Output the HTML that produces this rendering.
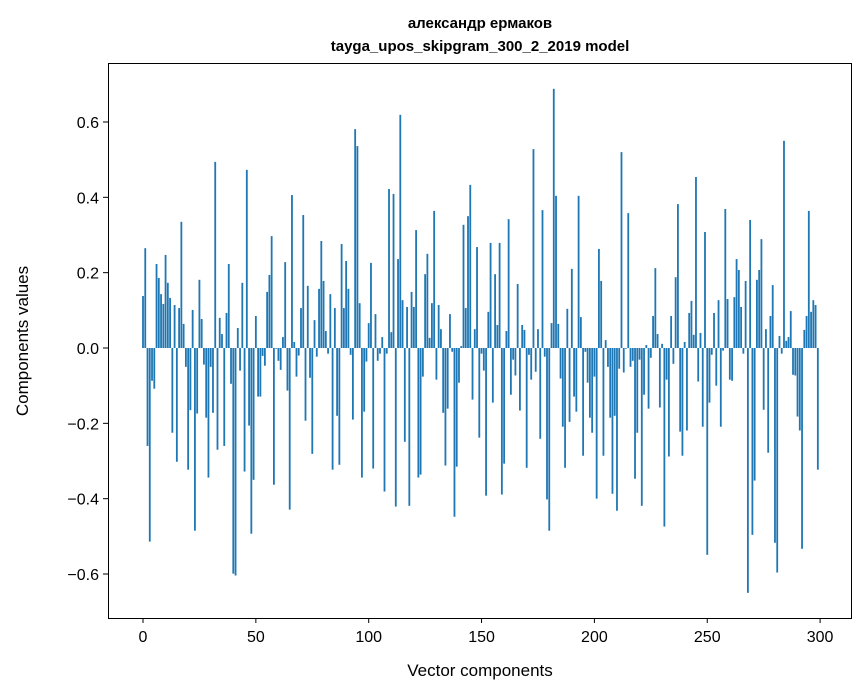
<!DOCTYPE html>
<html><head><meta charset="utf-8">
<style>
html,body{margin:0;padding:0;background:#fff;}
svg{display:block;font-family:"Liberation Sans","DejaVu Sans",sans-serif;}
</style></head>
<body>
<svg id="chart" width="867" height="696" viewBox="0 0 867 696">
  <rect x="0" y="0" width="867" height="696" fill="#fff"/>
  <text x="480" y="28" text-anchor="middle" font-size="15" font-weight="bold">александр ермаков</text>
  <text x="480" y="51" text-anchor="middle" font-size="15" font-weight="bold">tayga_upos_skipgram_300_2_2019 model</text>
  <g id="bars"></g>
  <g id="xticks"></g>
  <g id="yticks"></g>
  <rect x="108.5" y="63.5" width="743" height="555" fill="none" stroke="#000" stroke-width="1"/>
  <text x="480" y="676" text-anchor="middle" font-size="17">Vector components</text>
  <text x="28" y="341" text-anchor="middle" font-size="17" transform="rotate(-90 28 341)">Components values</text>
</svg>
<script>
const values = [
0.138,0.265,-0.26,-0.514,-0.087,-0.108,0.223,0.186,0.143,0.117,
0.247,0.173,0.133,-0.225,0.114,-0.302,0.106,0.335,0.064,-0.05,
-0.323,-0.165,0.101,-0.485,-0.174,0.181,0.077,-0.044,-0.185,-0.344,
-0.05,-0.172,0.494,-0.27,0.08,0.037,-0.26,0.093,0.223,-0.095,
-0.599,-0.604,0.053,-0.06,0.173,-0.328,0.473,-0.206,-0.493,-0.35,
0.085,-0.129,-0.129,-0.021,-0.047,0.149,0.194,0.297,-0.363,-0.002,
-0.034,-0.058,0.029,0.228,-0.113,-0.429,0.406,0.016,-0.076,-0.02,
0.106,0.353,-0.193,0.165,-0.079,-0.281,0.074,-0.023,0.157,0.284,
0.178,0.045,-0.015,0.143,-0.323,0.106,-0.18,-0.31,0.276,0.106,
0.231,0.157,-0.018,-0.19,0.581,0.536,0.119,-0.344,-0.169,-0.036,
0.066,0.226,-0.32,0.09,-0.034,-0.015,0.029,-0.381,-0.015,0.422,
0.042,0.409,-0.421,0.236,0.619,0.127,-0.249,0.109,-0.419,0.149,
0.109,0.313,-0.344,-0.336,-0.076,0.196,0.25,0.027,0.119,0.364,
-0.084,0.114,0.05,-0.172,-0.312,-0.161,0.09,-0.01,-0.448,-0.315,
-0.092,0.005,0.327,0.106,0.35,0.433,-0.137,0.05,0.268,-0.238,
-0.015,-0.06,-0.392,0.096,0.279,-0.145,0.196,0.061,0.279,-0.389,
-0.307,0.045,0.342,-0.124,-0.031,-0.073,0.17,-0.166,0.061,0.048,
-0.318,-0.018,-0.084,0.528,-0.063,0.05,-0.241,0.366,-0.023,-0.402,
-0.485,0.066,0.688,0.404,0.064,-0.081,-0.209,-0.318,0.104,-0.196,
0.21,-0.129,-0.169,0.404,0.082,-0.286,-0.01,-0.092,-0.185,-0.225,
-0.076,-0.4,0.263,0.178,-0.286,0.021,-0.05,-0.185,-0.387,-0.18,
-0.432,-0.055,0.52,-0.065,-0.002,0.358,-0.05,-0.034,-0.347,-0.225,
-0.031,-0.419,-0.124,0.008,-0.161,-0.026,0.085,0.212,0.037,-0.158,
0.011,-0.474,-0.084,-0.288,0.085,-0.042,0.188,0.382,-0.222,-0.286,
0.016,-0.219,0.093,0.125,0.035,0.454,-0.089,0.04,-0.209,0.308,
-0.549,-0.145,-0.018,0.093,-0.1,0.127,-0.209,-0.007,0.369,0.13,
-0.084,-0.087,0.135,0.236,0.207,0.109,-0.015,0.178,-0.65,0.34,
-0.496,-0.352,0.181,0.207,0.289,-0.164,0.05,-0.278,0.085,0.167,
-0.517,-0.596,0.032,-0.015,0.55,0.019,0.029,0.098,-0.071,-0.073,
-0.182,-0.219,-0.533,0.048,0.085,0.364,0.096,0.127,0.114,-0.323
];
const xTickValues = [0,50,100,150,200,250,300];
const yTickValues = [-0.6,-0.4,-0.2,0.0,0.2,0.4,0.6];
const yTickLabels = ["\u22120.6","\u22120.4","\u22120.2","0.0","0.2","0.4","0.6"];

const NS = "http://www.w3.org/2000/svg";
function xScale(i){ return 143 + i*2.257; }
function yScale(v){ return 348 - v*376.7; }
const barW = 0.8*2.257;

const barsG = document.getElementById('bars');
values.forEach(function(v,i){
  const r = document.createElementNS(NS,'rect');
  const y0 = yScale(0), y1 = yScale(v);
  r.setAttribute('x', xScale(i) - barW/2);
  r.setAttribute('y', Math.min(y0,y1));
  r.setAttribute('width', barW);
  r.setAttribute('height', Math.abs(y1-y0));
  r.setAttribute('fill', '#1f77b4');
  
  
  barsG.appendChild(r);
});

const xg = document.getElementById('xticks');
xTickValues.forEach(function(t){
  const x = xScale(t);
  const l = document.createElementNS(NS,'line');
  l.setAttribute('x1',x); l.setAttribute('x2',x);
  l.setAttribute('y1',618); l.setAttribute('y2',623);
  l.setAttribute('stroke','#000');
  
  
  xg.appendChild(l);
  const tx = document.createElementNS(NS,'text');
  tx.setAttribute('x',x); tx.setAttribute('y',642);
  tx.setAttribute('text-anchor','middle');
  tx.setAttribute('font-size','16');
  tx.textContent = String(t);
  
  
  xg.appendChild(tx);
});

const yg = document.getElementById('yticks');
yTickValues.forEach(function(t,k){
  const y = yScale(t);
  const l = document.createElementNS(NS,'line');
  l.setAttribute('x1',103); l.setAttribute('x2',108);
  l.setAttribute('y1',y); l.setAttribute('y2',y);
  l.setAttribute('stroke','#000');
  
  
  yg.appendChild(l);
  const tx = document.createElementNS(NS,'text');
  tx.setAttribute('x',99); tx.setAttribute('y',y+6);
  tx.setAttribute('text-anchor','end');
  tx.setAttribute('font-size','16');
  tx.textContent = yTickLabels[k];
  
  
  yg.appendChild(tx);
});
</script>
</body></html>
